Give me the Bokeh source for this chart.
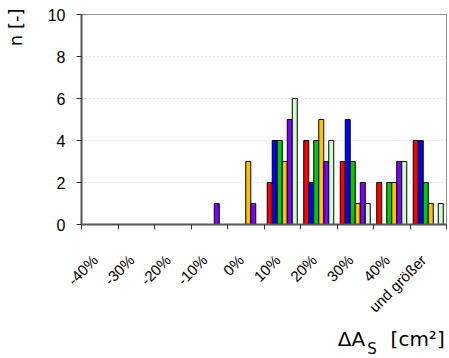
import math
from bokeh.plotting import figure
from bokeh.models import ColumnDataSource, Range1d, FixedTicker, Title, LinearAxis
from bokeh.transform import dodge
from bokeh.embed import file_html
from bokeh.resources import INLINE

# ---- data ----
categories = ["-40%", "-30%", "-20%", "-10%", "0%", "10%", "20%", "30%", "40%", "und größer"]
red_vals = [0, 0, 0, 0, 0, 2, 4, 3, 2, 4]
blue_vals = [0, 0, 0, 0, 0, 4, 2, 5, 0, 4]
green_vals = [0, 0, 0, 0, 0, 4, 4, 3, 2, 2]
yellow_vals = [0, 0, 0, 0, 3, 3, 5, 1, 2, 1]
purple_vals = [0, 0, 0, 1, 1, 5, 3, 2, 3, 0]
lightgreen_vals = [0, 0, 0, 0, 0, 6, 4, 1, 3, 1]
y_ticks = [0, 2, 4, 6, 8, 10]

series = [
    (red_vals, "#FF0000"),
    (blue_vals, "#0000FF"),
    (green_vals, "#00CC00"),
    (yellow_vals, "#FFC000"),
    (purple_vals, "#8000FF"),
    (lightgreen_vals, "#CCFFCC"),
]

n_cat = len(categories)
bar_w = 0.137

p = figure(width=449, height=358, output_backend="svg", toolbar_location=None,
           x_range=Range1d(0, n_cat), y_range=Range1d(0, 10),
           min_border_left=81, min_border_right=3, min_border_top=14, min_border_bottom=134)
p.background_fill_color = "white"
p.border_fill_color = "white"
p.outline_line_color = "#8c9696"
p.outline_line_width = 1

for k, (vals, col) in enumerate(series):
    xs = [i + 0.5 for i, v in enumerate(vals) if v > 0]
    tops = [v for v in vals if v > 0]
    src = ColumnDataSource(dict(x=xs, top=tops))
    off = (k - (len(series) - 1) / 2) * bar_w
    p.vbar(x=dodge("x", off), top="top", bottom=0, width=bar_w, source=src,
           fill_color=col, line_color="black", line_width=1)

# x axis: labels near category centres, ticks at boundaries (minor ticks)
label_pos = [i + 0.37 for i in range(n_cat)]
p.xaxis.ticker = FixedTicker(ticks=label_pos, minor_ticks=list(range(n_cat + 1)))
p.xaxis.major_label_overrides = {lp: c for lp, c in zip(label_pos, categories)}
p.xaxis.major_label_orientation = math.pi / 4
p.xaxis.major_tick_out = 0
p.xaxis.major_tick_in = 0
p.xaxis.minor_tick_out = 5
p.xaxis.minor_tick_in = 0
p.xaxis.minor_tick_line_color = "#333333"
p.xaxis.major_label_standoff = 28
p.xaxis.major_label_text_font = "Liberation Sans"
p.xaxis.major_label_text_font_size = "15px"
p.xaxis.major_label_text_color = "black"
p.xaxis.axis_line_color = "#555555"
p.xaxis.axis_line_width = 2

# y axis
p.yaxis.ticker = FixedTicker(ticks=y_ticks)
p.yaxis.major_tick_out = 5
p.yaxis.major_tick_in = 0
p.yaxis.major_tick_line_color = "#333333"
p.yaxis.minor_tick_out = 0
p.yaxis.minor_tick_in = 0
p.yaxis.major_label_standoff = 11
p.yaxis.major_label_text_font = "Liberation Sans"
p.yaxis.major_label_text_font_size = "16px"
p.yaxis.major_label_text_color = "black"
p.yaxis.axis_line_color = "#555555"
p.yaxis.axis_line_width = 2

# y-axis title placed near the top (as the single label of an outer left axis)
y_title_pos = 9.39
y_title_axis = LinearAxis(ticker=FixedTicker(ticks=[y_title_pos]),
                          major_label_overrides={y_title_pos: "n [-]"},
                          major_label_orientation="vertical",
                          major_label_standoff=18,
                          major_label_text_font="DejaVu Sans",
                          major_label_text_font_size="18px",
                          major_label_text_color="black",
                          axis_line_color=None, major_tick_line_color=None,
                          minor_tick_line_color=None,
                          major_tick_out=0, major_tick_in=0,
                          minor_tick_out=0, minor_tick_in=0)
p.add_layout(y_title_axis, "left")

p.xgrid.grid_line_color = None
p.ygrid.grid_line_color = "#c8c8c8"
p.ygrid.grid_line_dash = "1 3"

# x-axis title (side-panel titles so they are not clipped)
p.add_layout(Title(text="ΔA\u00a0\u00a0\u00a0\u00a0[cm²]", align="left", offset=256.3, standoff=0,
                   text_font="DejaVu Sans", text_font_size="20px", text_font_style="normal",
                   text_color="black"), "below")
p.add_layout(Title(text="S", align="left", vertical_align="top", offset=285.7, standoff=-21,
                   text_font="DejaVu Sans", text_font_size="15px", text_font_style="normal",
                   text_color="black"), "below")

open("out.html", "w").write(file_html(p, INLINE))
